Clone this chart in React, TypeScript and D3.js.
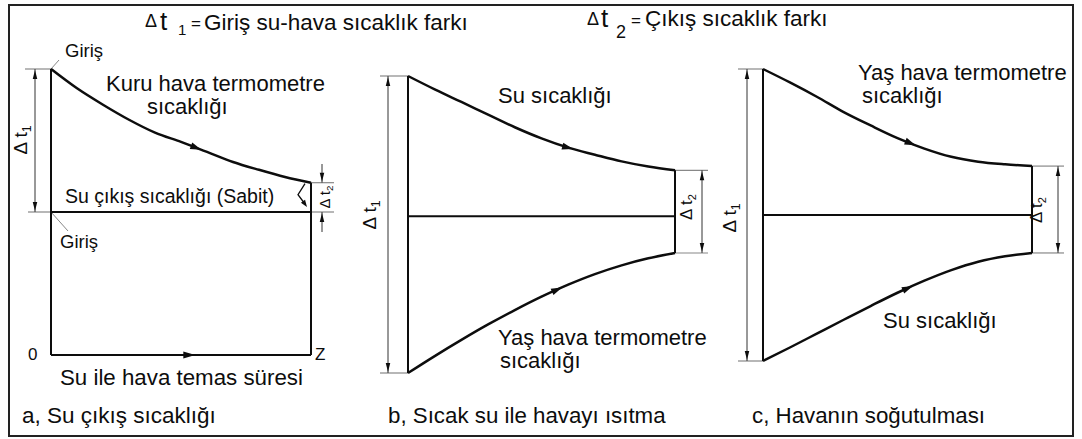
import React from "react";
import * as d3 from "d3";

// Contact time steps (0 … Z) shared by the three panels
const timeSteps = [0, 1, 2, 3, 4, 5, 6, 7, 8, 9, 10];

// a) Water leaving temperature constant, dry-bulb air temperature falling
const dryBulbA = [40, 37.3, 35.0, 32.9, 31.1, 29.8, 28.4, 27.0, 25.9, 24.9, 24.1];
const waterOutA = 20;

// b) Hot water heating the air
const waterB = [40, 38.2, 36.5, 34.8, 33.1, 31.6, 30.35, 29.4, 28.5, 27.8, 27.3];
const wetBulbB = [0, 2.28, 4.46, 6.54, 8.48, 10.29, 11.9, 13.32, 14.5, 15.45, 16.16];
const midB = 21.1;

// c) Cooling the air
const wetBulbC = [40, 38.16, 36.2, 34.1, 32.27, 30.54, 29.1, 27.97, 27.3, 26.94, 26.7];
const waterC = [0, 1.85, 3.75, 5.65, 7.53, 9.35, 11.0, 12.45, 13.6, 14.35, 14.8];
const midC = 20;

const FONT = "'Liberation Sans', Arial, Helvetica, sans-serif";
const INK = "#0d0d0d";

type Scale = d3.ScaleLinear<number, number>;

function tri(x: number, y: number, angleDeg: number, len = 9, wid = 5) {
  const a = (angleDeg * Math.PI) / 180;
  const dx = Math.cos(a), dy = Math.sin(a);
  const nx = -dy, ny = dx;
  const bx = x - dx * len, by = y - dy * len;
  return `${x},${y} ${bx + (nx * wid) / 2},${by + (ny * wid) / 2} ${bx - (nx * wid) / 2},${by - (ny * wid) / 2}`;
}

function CurveArrow({ xs, ys, vals, t }: { xs: Scale; ys: Scale; vals: number[]; t: number }) {
  const i = Math.floor(t);
  const f = t - i;
  const v = vals[i] + f * (vals[i + 1] - vals[i]);
  const x = xs(t), y = ys(v);
  const ang = Math.atan2(ys(vals[i + 1]) - ys(vals[i]), xs(i + 1) - xs(i));
  const tipX = x + Math.cos(ang) * 5, tipY = y + Math.sin(ang) * 5;
  return <polygon points={tri(tipX, tipY, (ang * 180) / Math.PI, 11, 7)} fill={INK} />;
}

function Curve({ xs, ys, vals }: { xs: Scale; ys: Scale; vals: number[] }) {
  const line = d3
    .line<number>()
    .x((_, i) => xs(timeSteps[i]))
    .y((d) => ys(d))
    .curve(d3.curveMonotoneX);
  return <path d={line(vals) || ""} fill="none" stroke={INK} strokeWidth={2.5} />;
}

function DimLine({ x, y1, y2 }: { x: number; y1: number; y2: number }) {
  return (
    <g>
      <line x1={x} x2={x} y1={y1} y2={y2} stroke="#333" strokeWidth={1} />
      <polygon points={tri(x, y1 + 1, -90, 9, 4.5)} fill={INK} />
      <polygon points={tri(x, y2 - 1, 90, 9, 4.5)} fill={INK} />
    </g>
  );
}

function Ext({ x1, x2, y }: { x1: number; x2: number; y: number }) {
  return <line x1={x1} x2={x2} y1={y} y2={y} stroke="#888" strokeWidth={1.2} />;
}

function DeltaLabel({ cx, cy, sub, size = 19 }: { cx: number; cy: number; sub: string; size?: number }) {
  return (
    <text
      transform={`translate(${cx},${cy}) rotate(-90)`}
      textAnchor="middle"
      fontFamily={FONT}
      fontSize={size}
      fill={INK}
    >
      Δ t
      <tspan fontSize={size * 0.65} dy={size * 0.22}>
        {sub}
      </tspan>
    </text>
  );
}

function T({ x, y, size = 22, children }: { x: number; y: number; size?: number; children: React.ReactNode }) {
  return (
    <text x={x} y={y} fontFamily={FONT} fontSize={size} fill={INK}>
      {children}
    </text>
  );
}

export default function App() {
  const xA = d3.scaleLinear().domain([0, 10]).range([51, 311]);
  const yA = d3.scaleLinear().domain([0, 40]).range([355, 69]);
  const xB = d3.scaleLinear().domain([0, 10]).range([408, 675]);
  const yB = d3.scaleLinear().domain([0, 40]).range([373, 76]);
  const xC = d3.scaleLinear().domain([0, 10]).range([763, 1032]);
  const yC = d3.scaleLinear().domain([0, 40]).range([361, 69]);

  const nA = dryBulbA.length - 1;

  // panel a geometry
  const aTop = yA(dryBulbA[0]);
  const aEnd = yA(dryBulbA[nA]);
  const aMid = yA(waterOutA);
  const aBot = yA(0);
  const aL = xA(0), aR = xA(10);

  // panel b geometry
  const bL = xB(0), bR = xB(10);
  const bTopL = yB(waterB[0]), bBotL = yB(wetBulbB[0]);
  const bTopR = yB(waterB[nA]), bBotR = yB(wetBulbB[nA]);
  const bMid = yB(midB);

  // panel c geometry
  const cL = xC(0), cR = xC(10);
  const cTopL = yC(wetBulbC[0]), cBotL = yC(waterC[0]);
  const cTopR = yC(wetBulbC[nA]), cBotR = yC(waterC[nA]);
  const cMid = yC(midC);

  return (
    <svg
      width={1082}
      height={439}
      viewBox="0 0 1082 439"
      style={{ position: "fixed", left: 0, top: 0, background: "#fff", display: "block" }}
    >
      <rect x={0} y={0} width={1082} height={439} fill="#fff" />
      <rect x={9} y={5} width={1064} height={431} fill="none" stroke="#222" strokeWidth={2} />

      {/* headings */}
      <g fontFamily={FONT} fill={INK}>
        <text x={145} y={27} fontSize={18}>Δ</text>
        <text x={160} y={30} fontSize={26}>t</text>
        <text x={178} y={35} fontSize={15}>1</text>
        <text x={191} y={29} fontSize={17}>=</text>
        <text x={204} y={30} fontSize={22.5}>Giriş su-hava sıcaklık farkı</text>

        <text x={587} y={25} fontSize={18}>Δ</text>
        <text x={601} y={27} fontSize={26}>t</text>
        <text x={616} y={38} fontSize={18}>2</text>
        <text x={631} y={26} fontSize={17}>=</text>
        <text x={645} y={26} fontSize={22.5}>Çıkış sıcaklık farkı</text>
      </g>

      {/* ---------- a ---------- */}
      <Ext x1={25} x2={aL} y={aTop} />
      <Ext x1={28} x2={aL} y={aMid} />
      <Ext x1={aR} x2={334} y={aMid} />
      <Ext x1={aR} x2={334} y={aEnd} />
      <DimLine x={35} y1={aTop} y2={aMid} />
      <line x1={322} x2={322} y1={164} y2={aEnd} stroke="#333" strokeWidth={1} />
      <polygon points={tri(322, aEnd - 1, 90, 9, 4.5)} fill={INK} />
      <line x1={322} x2={322} y1={aMid} y2={232} stroke="#333" strokeWidth={1} />
      <polygon points={tri(322, aMid + 1, -90, 9, 4.5)} fill={INK} />
      <DeltaLabel cx={27} cy={140} sub="1" size={19} />
      <DeltaLabel cx={330} cy={197} sub="2" size={15} />
      {/* leader from the curve end */}
      <polyline points={`${aR - 6},${aEnd + 1} ${aR - 13},${aEnd + 12} ${aR - 6},${aMid - 8}`} fill="none" stroke={INK} strokeWidth={1.3} />
      <polygon points={tri(aR - 4, aMid - 5, 55, 7, 5)} fill={INK} />
      {/* Giriş leaders */}
      <line x1={aL} y1={aTop} x2={aL + 8} y2={aTop - 9} stroke="#888" strokeWidth={1} />
      <line x1={aL} y1={aMid} x2={aL + 17} y2={aMid + 19} stroke="#888" strokeWidth={1} />

      <line x1={aL} x2={aL} y1={aTop} y2={aBot} stroke={INK} strokeWidth={2} />
      <line x1={aL} x2={aR} y1={aBot} y2={aBot} stroke={INK} strokeWidth={2} />
      <line x1={aR} x2={aR} y1={aEnd} y2={aBot} stroke={INK} strokeWidth={2} />
      <line x1={aL} x2={aR} y1={aMid} y2={aMid} stroke={INK} strokeWidth={2} />
      <Curve xs={xA} ys={yA} vals={dryBulbA} />
      <CurveArrow xs={xA} ys={yA} vals={dryBulbA} t={5.6} />
      <polygon points={tri(xA(5.55), aBot, 0, 12, 7)} fill={INK} />

      <T x={65} y={57} size={18.5}>Giriş</T>
      <T x={106} y={91}>Kuru hava termometre</T>
      <T x={147} y={114}>sıcaklığı</T>
      <T x={65} y={203} size={19.5}>Su çıkış sıcaklığı (Sabit)</T>
      <T x={60} y={248} size={18.5}>Giriş</T>
      <T x={28} y={360} size={17}>0</T>
      <T x={315} y={360} size={17}>Z</T>
      <T x={60} y={385} size={22.3}>Su ile hava temas süresi</T>
      <T x={22} y={423} size={22.5}>a, Su çıkış sıcaklığı</T>

      {/* ---------- b ---------- */}
      <Ext x1={380} x2={bL} y={bTopL} />
      <Ext x1={380} x2={bL} y={bBotL} />
      <Ext x1={bR} x2={708} y={bTopR} />
      <Ext x1={bR} x2={708} y={bBotR} />
      <DimLine x={388} y1={bTopL} y2={bBotL} />
      <DimLine x={702} y1={bTopR} y2={bBotR} />
      <DeltaLabel cx={376} cy={215} sub="1" size={19} />
      <DeltaLabel cx={692} cy={207} sub="2" size={17} />

      <line x1={bL} x2={bL} y1={bTopL} y2={bBotL} stroke={INK} strokeWidth={2} />
      <line x1={bR} x2={bR} y1={bTopR} y2={bBotR} stroke={INK} strokeWidth={2} />
      <line x1={bL} x2={bR} y1={bMid} y2={bMid} stroke={INK} strokeWidth={2} />
      <Curve xs={xB} ys={yB} vals={waterB} />
      <Curve xs={xB} ys={yB} vals={wetBulbB} />
      <CurveArrow xs={xB} ys={yB} vals={waterB} t={6.0} />
      <CurveArrow xs={xB} ys={yB} vals={wetBulbB} t={5.6} />

      <T x={498} y={103}>Su sıcaklığı</T>
      <T x={498} y={345}>Yaş hava termometre</T>
      <T x={500} y={368}>sıcaklığı</T>
      <T x={388} y={423} size={22.3}>b, Sıcak su ile havayı ısıtma</T>

      {/* ---------- c ---------- */}
      <Ext x1={738} x2={cL} y={cTopL} />
      <Ext x1={738} x2={cL} y={cBotL} />
      <Ext x1={cR} x2={1064} y={cTopR} />
      <Ext x1={cR} x2={1064} y={cBotR} />
      <DimLine x={747} y1={cTopL} y2={cBotL} />
      <DimLine x={1058} y1={cTopR} y2={cBotR} />
      <DeltaLabel cx={736} cy={218} sub="1" size={19} />
      <DeltaLabel cx={1042} cy={210} sub="2" size={17} />

      <line x1={cL} x2={cL} y1={cTopL} y2={cBotL} stroke={INK} strokeWidth={2} />
      <line x1={cR} x2={cR} y1={cTopR} y2={cBotR} stroke={INK} strokeWidth={2} />
      <line x1={cL} x2={cR} y1={cMid} y2={cMid} stroke={INK} strokeWidth={2} />
      <Curve xs={xC} ys={yC} vals={wetBulbC} />
      <Curve xs={xC} ys={yC} vals={waterC} />
      <CurveArrow xs={xC} ys={yC} vals={wetBulbC} t={5.5} />
      <CurveArrow xs={xC} ys={yC} vals={waterC} t={5.4} />

      <T x={858} y={80}>Yaş hava termometre</T>
      <T x={862} y={103}>sıcaklığı</T>
      <T x={883} y={328}>Su sıcaklığı</T>
      <T x={752} y={423} size={22.3}>c, Havanın soğutulması</T>
    </svg>
  );
}
